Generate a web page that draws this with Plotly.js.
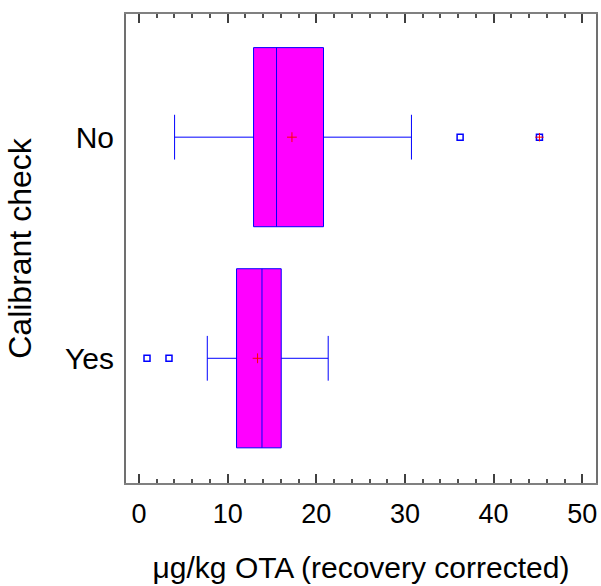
<!DOCTYPE html>
<html>
<head>
<meta charset="utf-8">
<script src="https://cdn.plot.ly/plotly-3.0.1.min.js"></script>
<style>html,body{margin:0;padding:0;background:#fff;}#chart{width:601px;height:586px;}</style>
</head>
<body>
<div id="chart"></div>
<script>
// Data
var categories = ['No', 'Yes'];
var lowerWhisker = [4.01, 7.70];
var q1 = [12.92, 11.00];
var medians = [15.51, 13.87];
var q3 = [20.81, 16.04];
var upperWhisker = [30.73, 21.34];
var means = [17.25, 13.37];
var outlierX = [36.22, 45.17, 0.90, 3.38];
var outlierY = ['No', 'No', 'Yes', 'Yes'];
var farOutlierX = [45.17];
var farOutlierY = ['No'];
var xTicks = [0, 10, 20, 30, 40, 50];

var traces = [
  {
    type: 'box', orientation: 'h',
    y: categories,
    q1: q1, median: medians, q3: q3,
    lowerfence: lowerWhisker, upperfence: upperWhisker,
    boxpoints: false,
    width: 0.81,
    whiskerwidth: 0.25,
    fillcolor: '#FF00FF',
    line: {color: '#0000FF', width: 1},
    hoverinfo: 'skip',
    showlegend: false
  },
  {
    type: 'scatter', mode: 'markers',
    x: outlierX, y: outlierY,
    marker: {symbol: 'square-open', size: 6, color: '#0000FF', line: {width: 1.5, color: '#0000FF'}},
    showlegend: false, hoverinfo: 'skip'
  },
  {
    type: 'scatter', mode: 'markers',
    x: farOutlierX, y: farOutlierY,
    marker: {symbol: 'cross-thin', size: 6, color: '#FF0000', line: {width: 1, color: '#FF0000'}},
    showlegend: false, hoverinfo: 'skip'
  },
  {
    type: 'scatter', mode: 'markers',
    x: means, y: categories,
    marker: {symbol: 'cross-thin', size: 7, color: '#FF0000', line: {width: 1, color: '#FF0000'}},
    showlegend: false, hoverinfo: 'skip'
  }
];

var layout = {
  width: 601, height: 586,
  margin: {l: 126, r: 5, t: 14, b: 103},
  paper_bgcolor: '#ffffff', plot_bgcolor: '#ffffff',
  font: {family: 'Liberation Sans, Arial, sans-serif', size: 26, color: '#000000'},
  showlegend: false,
  xaxis: {
    range: [-1.47, 51.55],
    tickvals: xTicks,
    ticktext: xTicks.map(String),
    ticks: 'inside', ticklen: 9, tickwidth: 2, tickcolor: '#404040',
    minor: {dtick: 2, ticks: 'inside', ticklen: 4, tickwidth: 2, tickcolor: '#505050', showgrid: false},
    showline: true, linecolor: '#808080', linewidth: 2, mirror: 'ticks',
    showgrid: false, zeroline: false,
    ticklabelstandoff: 6,
    tickfont: {size: 27},
    title: {text: 'μg/kg OTA (recovery corrected)', font: {size: 30}, standoff: 29}
  },
  yaxis: {
    type: 'category',
    categoryorder: 'array', categoryarray: ['Yes', 'No'],
    range: [-0.564, 1.557],
    ticks: '',
    showline: true, linecolor: '#707070', linewidth: 2, mirror: true,
    showgrid: false, zeroline: false,
    ticklabelstandoff: 4,
    tickfont: {size: 30},
    title: {text: 'Calibrant check', font: {size: 32}, standoff: 24}
  }
};

Plotly.newPlot('chart', traces, layout, {staticPlot: true, displayModeBar: false});
</script>
</body>
</html>
